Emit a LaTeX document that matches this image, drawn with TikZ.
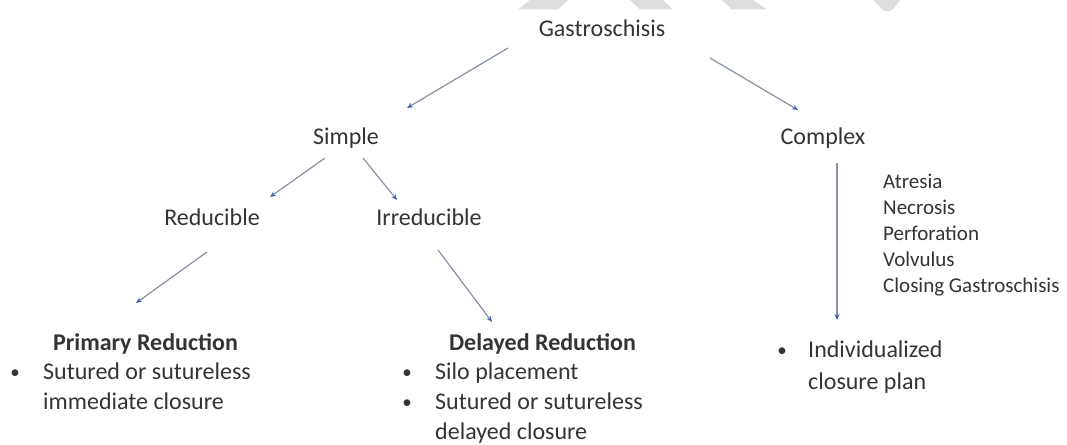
\documentclass[tikz,border=0pt]{standalone}
\usepackage{fontspec}
\setmainfont{Carlito}
\usetikzlibrary{arrows.meta}
\definecolor{txt}{RGB}{52,52,52}
\definecolor{ln}{RGB}{135,145,165}
\definecolor{hd}{RGB}{70,100,165}
\definecolor{wm}{RGB}{221,221,221}
\begin{document}
\begin{tikzpicture}[x=1pt,y=-1pt,
  lbl/.style={font=\fontsize{24}{30}\selectfont, text=txt, inner sep=0pt, anchor=base},
  head/.style={lbl, font=\fontsize{24}{30}\selectfont\bfseries},
  line/.style={lbl, anchor=base west},
  bul/.style={lbl, font=\fontsize{19}{30}\selectfont, anchor=base},
  small/.style={font=\fontsize{21}{26}\selectfont, text=txt, inner sep=0pt, anchor=base west},
  arr/.style={draw=ln, line width=1.2pt, -{Stealth[length=6pt,width=5pt,color=hd]}},
  wmark/.style={fill=wm, draw=none}
]
\useasboundingbox (0,0) rectangle (1067,444);
\fill[white] (0,0) rectangle (1067,444);
% faint watermark
\fill[wmark] (530,0) -- (568,0) -- (558,9.5) -- (518,9.5) -- cycle;
\fill[wmark] (630,0) -- (663,0) -- (673,9.5) -- (640,9.5) -- cycle;
\fill[wmark] (722,0) -- (753,0) -- (767,9.5) -- (732,9.5) -- cycle;
\fill[wmark] (873,0) -- (900,0) -- (894,8) to[out=-120,in=-60] (881,8) -- cycle;

% main labels
\node[lbl] (g) at (602,37) {Gastroschisis};
\node[lbl] (simple) at (346,144) {Simple};
\node[lbl] (complex) at (823,144) {Complex};
\node[lbl] (red) at (212,225) {Reducible};
\node[lbl] (irr) at (429,225) {Irreducible};

% primary reduction
\node[head] (pr) at (145.5,350) {Primary Reduction};
\node[bul] (prb) at (15,378) {•};
\node[line] (pr1) at (43,379) {Sutured or sutureless};
\node[line] (pr2) at (43,409) {immediate closure};

% delayed reduction
\node[head] (dr) at (542.5,350) {Delayed Reduction};
\node[bul] (drb1) at (407,378) {•};
\node[line] (dr1) at (435,379) {Silo placement};
\node[bul] (drb2) at (407,408) {•};
\node[line] (dr2) at (435,409) {Sutured or sutureless};
\node[line] (dr3) at (435,439) {delayed closure};

% complex list
\node[small] (l1) at (883,188) {Atresia};
\node[small] (l2) at (883,214) {Necrosis};
\node[small] (l3) at (883,240) {Perforation};
\node[small] (l4) at (883,266) {Volvulus};
\node[small] (l5) at (883,292) {Closing Gastroschisis};

% individualized
\node[bul] (inb) at (782,356) {•};
\node[line] (in1) at (808,357) {Individualized};
\node[line] (in2) at (808,389) {closure plan};

% connector ends
\coordinate (g-s) at (508,48);
\coordinate (s-g) at (407,108);
\coordinate (g-c) at (710,58);
\coordinate (c-g) at (798,110);
\coordinate (s-r) at (325,158);
\coordinate (r-s) at (270,197);
\coordinate (s-i) at (363,158);
\coordinate (i-s) at (397,200);
\coordinate (r-p) at (207,252);
\coordinate (p-r) at (136,303);
\coordinate (i-d) at (438,250);
\coordinate (d-i) at (492,322);
\coordinate (c-n) at (837,163);
\coordinate (n-c) at (837,320);

\draw[arr] (g-s) -- (s-g);
\draw[arr] (g-c) -- (c-g);
\draw[arr] (s-r) -- (r-s);
\draw[arr] (s-i) -- (i-s);
\draw[arr] (r-p) -- (p-r);
\draw[arr] (i-d) -- (d-i);
\draw[arr] (c-n) -- (n-c);
\end{tikzpicture}
\end{document}
